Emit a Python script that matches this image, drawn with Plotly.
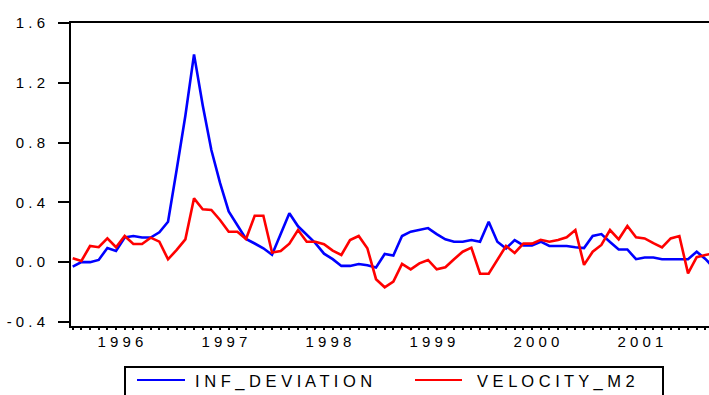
import plotly.graph_objects as go

# Monthly observations, 1996M01 onwards
periods = [f"{1996 + k // 12}M{k % 12 + 1:02d}" for k in range(75)]

inf_deviation = [
    -0.03, 0.00, 0.00, 0.015, 0.095, 0.075, 0.165, 0.175, 0.165, 0.165, 0.20, 0.27,
    0.62, 0.98, 1.39, 1.05, 0.75, 0.53, 0.34, 0.25, 0.155, 0.125, 0.093, 0.05,
    0.195, 0.327, 0.24, 0.18, 0.127, 0.057, 0.02, -0.025, -0.025, -0.012, -0.02, -0.035,
    0.055, 0.045, 0.175, 0.204, 0.215, 0.228, 0.188, 0.153, 0.137, 0.137, 0.148, 0.137,
    0.27, 0.137, 0.092, 0.148, 0.112, 0.112, 0.137, 0.108, 0.108, 0.108, 0.10, 0.094,
    0.175, 0.188, 0.135, 0.085, 0.085, 0.02, 0.031, 0.031, 0.02, 0.02, 0.02, 0.02,
    0.07, 0.022, -0.04,
]

velocity_m2 = [
    0.026, 0.008, 0.108, 0.10, 0.16, 0.10, 0.175, 0.122, 0.122, 0.164, 0.137, 0.019,
    0.082, 0.153, 0.427, 0.354, 0.349, 0.282, 0.204, 0.204, 0.155, 0.311, 0.311, 0.064,
    0.075, 0.124, 0.215, 0.137, 0.137, 0.12, 0.077, 0.048, 0.148, 0.175, 0.093, -0.114,
    -0.168, -0.13, -0.012, -0.048, -0.008, 0.015, -0.048, -0.034, 0.02, 0.07, 0.097, -0.077,
    -0.077, 0.015, 0.108, 0.062, 0.124, 0.124, 0.15, 0.137, 0.148, 0.166, 0.215, -0.018,
    0.07, 0.115, 0.215, 0.153, 0.242, 0.166, 0.159, 0.127, 0.098, 0.159, 0.175, -0.075,
    0.033, 0.048, 0.06,
]

years = ["1996", "1997", "1998", "1999", "2000", "2001"]
y_ticks = [-0.4, 0.0, 0.4, 0.8, 1.2, 1.6]
series_names = ["INF_DEVIATION", "VELOCITY_M2"]
series_colors = ["#0000FF", "#FF0000"]

FONT = "Liberation Sans, Arial, sans-serif"
W, H = 709, 395
ML, MR, MT, MB = 71, 0, 23, 69


def spaced(s):
    return " ".join(s)


x = list(range(len(periods)))
x_range = [-0.196, 73.42]
y_range = [-0.427, 1.6]

fig = go.Figure()
for name, vals, col in zip(series_names, [inf_deviation, velocity_m2], series_colors):
    fig.add_trace(go.Scatter(
        x=x, y=vals, mode="lines", name=name,
        line=dict(color=col, width=2.6), showlegend=False,
    ))

# year labels centred in each year, year boundaries as major ticks
year_mid = [12 * k + 5.5 for k in range(len(years))]
year_edges = [12 * k for k in range(1, len(years) + 1)]

fig.update_layout(
    width=W, height=H,
    margin=dict(l=ML, r=MR, t=MT, b=MB, pad=0),
    paper_bgcolor="white", plot_bgcolor="white",
    font=dict(family=FONT, size=15, color="#000000"),
    xaxis=dict(
        range=x_range, showgrid=False, zeroline=False,
        showline=True, linecolor="black", linewidth=2, mirror=True,
        tickmode="array", tickvals=year_mid, ticktext=[spaced(y) for y in years],
        ticks="", ticklabelstandoff=1,
        minor=dict(ticks="outside", ticklen=2, tickwidth=2, tickcolor="black",
                   tick0=0, dtick=1, showgrid=False),
        tickfont=dict(size=15),
    ),
    xaxis2=dict(
        range=x_range, overlaying="x", anchor="y", side="bottom",
        showgrid=False, zeroline=False, showline=False,
        tickmode="array", tickvals=year_edges, ticktext=["" for _ in year_edges],
        ticks="outside", ticklen=4, tickwidth=2, tickcolor="black",
    ),
    yaxis=dict(
        range=y_range, showgrid=False, zeroline=False,
        showline=True, linecolor="black", linewidth=2,
        tickmode="array", tickvals=y_ticks,
        ticktext=[spaced(f"{v:.1f}") for v in y_ticks],
        ticks="outside", ticklen=11, tickwidth=1.5, tickcolor="black",
        ticklabelstandoff=10, tickfont=dict(size=15),
    ),
)


# legend box below the axis
def px_x(p):
    return (p - ML) / (W - ML - MR)


def px_y(p):
    return (H - MB - p) / (H - MT - MB)


fig.add_shape(type="rect", xref="paper", yref="paper",
              x0=px_x(125), x1=px_x(663), y0=px_y(410), y1=px_y(367),
              line=dict(color="black", width=2), fillcolor="white", layer="above")

legend_items = [(137, 185, 193), (415, 462, 475)]
for (lx0, lx1, tx), name, col in zip(legend_items, series_names, series_colors):
    fig.add_shape(type="line", xref="paper", yref="paper",
                  x0=px_x(lx0), x1=px_x(lx1), y0=px_y(380), y1=px_y(380),
                  line=dict(color=col, width=2))
    fig.add_annotation(xref="paper", yref="paper", x=px_x(tx), y=px_y(381),
                       xanchor="left", yanchor="middle", showarrow=False,
                       text=spaced(name), font=dict(size=16.5, color="#000000"))

fig.write_html("out.html")
